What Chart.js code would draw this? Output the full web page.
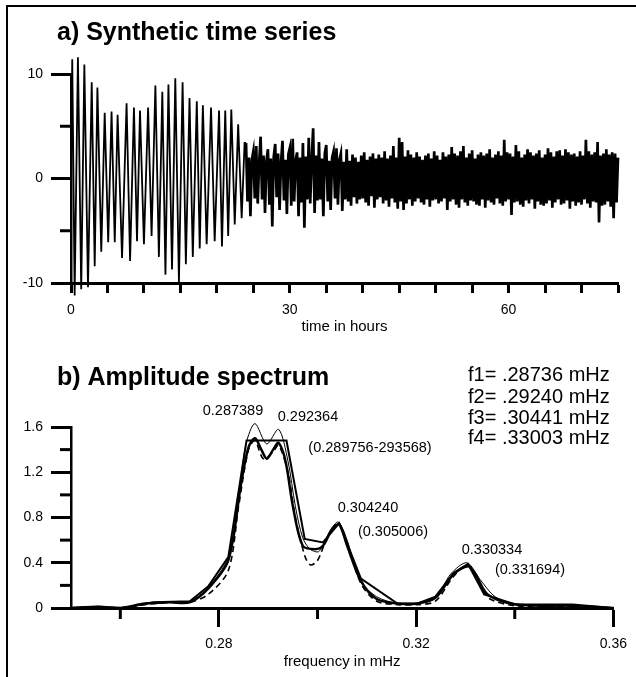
<!DOCTYPE html>
<html><head><meta charset="utf-8">
<script src="https://cdn.jsdelivr.net/npm/chart.js@4/dist/chart.umd.min.js"></script>
<style>
html,body{margin:0;padding:0;background:#fff;}
body{width:636px;height:677px;position:relative;overflow:hidden;}
#frame{position:absolute;left:6px;top:5px;width:700px;height:700px;border-left:2px solid #000;border-top:2px solid #000;}
.box{position:absolute;left:0;width:636px;}
#boxA{top:0;height:345px;}
#boxB{top:340px;height:337px;}
</style></head><body>
<div id="frame"></div>
<div class="box" id="boxA"><canvas id="cA"></canvas></div>
<div class="box" id="boxB"><canvas id="cB"></canvas></div>
<script>
// ---------- panel a: synthetic time series ----------
const hoursEarly = [0.0,0.17,0.5,0.95,1.4,1.83,2.33,2.84,3.25,3.62,4.15,4.62,5.1,5.56,6.0,6.39,7.0,7.62,8.1,8.63,9.05,9.46,10.0,10.57,11.05,11.57,12.05,12.52,12.95,13.36,13.85,14.3,14.8,15.3,15.75,16.25,16.7,17.25,17.65,18.08,18.6,19.2,19.7,20.3,20.7,21.15,21.55,21.98,22.45,22.92,23.4,23.8];
const valuesEarly = [0,11.4,-11.2,11.6,-10.6,10.9,-10.4,9.2,-8.4,8.7,-7.0,6.3,-6.1,6.4,-6.1,6.1,-7.6,7.2,-7.9,6.8,-6.0,6.5,-6.3,6.8,-5.5,8.9,-7.5,8.3,-9.2,9.0,-8.7,9.6,-10.0,9.2,-8.2,7.7,-7.5,7.4,-6.7,7.0,-6.3,6.8,-6.0,6.5,-6.5,6.5,-5.5,6.6,-4.4,5.2,-3.8,3.4];
const denseStartHour = 24.0;
const denseStepHour = 0.2;
const valuesDense = [
 3.4,-2.2,2.0,-3.6,1.8, 2.6,-1.9,3.1,-2.4,1.5, 4.0,-2.0,2.2,-3.3,1.7, 2.8,-2.5,1.9,-4.6,2.1,
 3.3,-1.8,2.4,-3.0,1.6, 3.6,-2.1,1.8,-3.4,2.3, 2.9,-2.6,3.8,-2.2,1.7, 2.5,-3.6,2.0,-2.3,3.4,
 -4.7,2.1,-2.0,3.9,-2.4, 1.8,4.8,-3.3,2.2,-2.1, 3.5,-2.0,1.9,-3.6,2.4, 3.2,-2.2,1.7,-3.0,2.0,
 2.6,-1.9,2.9,-2.5,1.8, 2.4,-3.1,1.6,-2.0,2.8, -2.2,1.7,-2.6,2.3,-1.8, 2.0,-2.4,1.6,-2.0,2.2,
 -1.9,2.5,-2.3,1.8,-2.6, 2.1,-1.7,2.4,-2.8,1.9, -2.0,2.3,-1.8,2.0,-2.4, 2.6,-2.1,1.9,-2.7,2.2,
 -1.9,3.1,-2.3,2.0,-2.9, 3.9,-2.2,3.5,-3.0,2.1, -2.4,2.7,-2.0,2.3,-2.6, 2.0,-2.2,2.5,-1.9,2.1,
 -2.3,1.8,-2.5,2.2,-2.0, 2.4,-2.7,1.9,-2.1,2.6, -2.0,2.2,-2.4,1.8,-2.2, 2.5,-1.9,2.1,-3.0,2.3,
 -2.2,3.0,-2.0,2.4,-2.5, 2.2,-2.8,2.6,-2.0,3.1, -2.3,2.0,-2.6,2.4,-2.1, 2.7,-2.2,1.9,-2.5,2.3,
 -2.6,2.5,-2.0,2.2,-2.8, 2.4,-2.1,2.8,-2.3,2.0, -2.5,2.3,-1.9,2.6,-2.4, 2.2,-2.6,3.7,-2.2,2.5,
 -2.0,2.4,-3.5,2.1,-2.3, 3.2,-2.2,2.6,-2.5,2.0, -2.7,2.3,-2.1,2.8,-2.4, 2.5,-2.0,2.2,-2.9,2.4,
 -2.2,2.7,-2.5,2.0,-2.6, 2.3,-2.4,2.9,-2.1,2.5, -2.8,2.1,-2.3,2.6,-2.0, 2.7,-2.5,2.2,-2.4,2.8,
 -2.1,2.5,-2.9,2.3,-2.2, 2.4,-2.6,2.1,-2.3,2.6, -2.5,2.2,-2.0,3.7,-2.4, 2.6,-2.8,2.3,-2.2,2.5,
 -2.3,3.5,-4.2,2.2,-2.6, 2.4,-2.5,2.8,-2.2,2.3, -2.7,2.5,-3.8,2.4,-2.3, 2.0
];
const timeTicksLabelled = [0, 30, 60];

// ---------- panel b: amplitude spectrum ----------
const freqFlat = [0.2500,0.2556,0.2603,0.2630,0.2667,0.2741,0.2778,0.2819,0.2856,0.2937,0.2974,0.3011,0.3044,0.3088,0.3162,0.3203,0.3239,0.3276,0.3305,0.3338,0.3403,0.3517,0.3600];
const ampFlat  = [0.00,0.01,0.00,0.02,0.05,0.06,0.19,0.45,1.48,1.48,0.61,0.58,0.75,0.26,0.04,0.04,0.10,0.31,0.39,0.12,0.03,0.03,0.00];
const freqLow = [0.2500,0.2556,0.2600,0.2650,0.2700,0.2741,0.2778,0.2819,0.2845,0.2860,0.2873,0.2886,0.2897,0.2910,0.2921,0.2935,0.2950,0.2970,0.2995,0.3011,0.3030,0.3044,0.3060,0.3088,0.3120,0.3162,0.3203,0.3239,0.3276,0.3305,0.3320,0.3345,0.3403,0.3517,0.3600];
const ampLow  = [0.00,0.01,0.00,0.04,0.05,0.05,0.17,0.42,1.10,1.42,1.50,1.40,1.32,1.40,1.46,1.30,0.90,0.55,0.52,0.55,0.70,0.74,0.55,0.24,0.08,0.04,0.04,0.09,0.30,0.37,0.30,0.12,0.03,0.02,0.00];
const freqThin = [0.2500,0.2556,0.2600,0.2650,0.2700,0.2741,0.2778,0.2819,0.2840,0.2855,0.2873,0.2897,0.2921,0.2940,0.2955,0.2970,0.2985,0.3003,0.3025,0.3042,0.3060,0.3085,0.3120,0.3162,0.3203,0.3240,0.3270,0.3303,0.3330,0.3360,0.3403,0.3500,0.3600];
const ampThin  = [0.00,0.01,0.00,0.04,0.05,0.06,0.18,0.45,1.00,1.45,1.63,1.45,1.58,1.30,0.90,0.62,0.52,0.50,0.68,0.76,0.60,0.25,0.10,0.04,0.04,0.09,0.30,0.40,0.25,0.10,0.03,0.02,0.00];
const freqDash = [0.2500,0.2556,0.2600,0.2650,0.2700,0.2741,0.2778,0.2819,0.2840,0.2860,0.2873,0.2890,0.2910,0.2921,0.2940,0.2955,0.2975,0.2986,0.3000,0.3020,0.3044,0.3065,0.3090,0.3120,0.3162,0.3203,0.3239,0.3276,0.3305,0.3330,0.3350,0.3400,0.3500,0.3600];
const ampDash  = [0.00,0.01,0.00,0.03,0.05,0.05,0.12,0.33,0.90,1.40,1.48,1.32,1.38,1.44,1.20,0.80,0.45,0.38,0.42,0.62,0.74,0.50,0.20,0.06,0.03,0.03,0.06,0.28,0.38,0.20,0.08,0.02,0.01,0.00];

const peakLabels = ['0.287389','0.292364','(0.289756-293568)','0.304240','(0.305006)','0.330334','(0.331694)'];
const freqLines = ['f1= .28736 mHz','f2= .29240 mHz','f3= .30441 mHz','f4= .33003 mHz'];

// ---------- helpers ----------
const FONT = '"Liberation Sans", Arial, sans-serif';
function pts(xs, ys){ return xs.map((x,i)=>({x:x, y:ys[i]})); }
const seriesA = pts(hoursEarly, valuesEarly).concat(valuesDense.map((v,i)=>({x: denseStartHour + i*denseStepHour, y: v})));

function minorTicks(axisId, values, len, horizontal){
  return function(chart){
    const s = chart.scales[axisId], ctx = chart.ctx;
    ctx.save(); ctx.strokeStyle='#000'; ctx.lineWidth=3; ctx.lineCap='butt';
    values.forEach(v=>{
      const p = s.getPixelForValue(v);
      ctx.beginPath();
      if (horizontal){ ctx.moveTo(p, s.top); ctx.lineTo(p, s.top+len); }
      else { ctx.moveTo(s.right-len, p); ctx.lineTo(s.right, p); }
      ctx.stroke();
    });
    ctx.restore();
  };
}
function txt(ctx, s, x, y, font, align){
  ctx.font = font; ctx.textAlign = align || 'left'; ctx.textBaseline='middle'; ctx.fillStyle='#000';
  ctx.fillText(s, x, y);
}

const tickFont = {family: FONT, size: 14};

// ---------- chart a ----------
new Chart(document.getElementById('cA'), {
  type: 'line',
  data: { datasets: [{ data: seriesA, borderColor:'#000', borderWidth:1.8, pointRadius:0, tension:0, clip:false,
    segment:{ borderWidth:(c)=> c.p0.parsed.x >= denseStartHour ? 2.7 : 1.8 } }]},
  options: {
    responsive:true, maintainAspectRatio:false, animation:false,
    layout:{ padding:{ left:0, right:18, top:74, bottom:0 } },
    plugins:{ legend:{display:false}, tooltip:{enabled:false} },
    scales:{
      x:{ type:'linear', min:0, max:75,
        ticks:{ stepSize:5, color:'#000', font:tickFont, padding:9, maxRotation:0, autoSkip:false,
          callback:(v)=> timeTicksLabelled.includes(v) ? String(v) : '' },
        grid:{ drawOnChartArea:false, drawTicks:true, tickLength:10, tickWidth:3, tickColor:'#000' },
        border:{ display:true, width:3, color:'#000' },
        afterFit:(s)=>{ s.height = 62; } },
      y:{ type:'linear', min:-10, max:10,
        ticks:{ stepSize:10, color:'#000', font:tickFont, padding:8 },
        grid:{ drawOnChartArea:false, drawTicks:true, tickLength:20, tickWidth:3, tickColor:'#000' },
        border:{ display:true, width:2.5, color:'#000' },
        afterFit:(s)=>{ s.width = 71; } }
    }
  },
  plugins:[{ id:'decoA', afterDraw:(chart)=>{
    minorTicks('y', [-5,5], 11, false)(chart);
    const ctx = chart.ctx, ca = chart.chartArea;
    ctx.save();
    txt(ctx, 'a) Synthetic time series', 57, 33, 'bold 25px '+FONT);
    txt(ctx, 'time in hours', (ca.left+ca.right)/2, 327, '15px '+FONT, 'center');
    ctx.restore();
  }}]
});

// ---------- chart b ----------
const OFF = 340;
new Chart(document.getElementById('cB'), {
  type: 'line',
  data: { datasets: [
    { data: pts(freqThin, ampThin), borderColor:'#000', borderWidth:1, pointRadius:0, tension:0.3, clip:false },
    { data: pts(freqDash, ampDash), borderColor:'#000', borderWidth:1.6, borderDash:[6,4], pointRadius:0, tension:0.3, clip:false },
    { data: pts(freqLow, ampLow), borderColor:'#000', borderWidth:2.5, pointRadius:0, tension:0.3, clip:false },
    { data: pts(freqFlat, ampFlat), borderColor:'#000', borderWidth:2, pointRadius:0, tension:0, clip:false }
  ]},
  options: {
    responsive:true, maintainAspectRatio:false, animation:false,
    layout:{ padding:{ left:0, right:19, top:87, bottom:0 } },
    plugins:{ legend:{display:false}, tooltip:{enabled:false} },
    scales:{
      x:{ type:'linear', min:0.25, max:0.36,
        ticks:{ stepSize:0.04, includeBounds:false, color:'#000', font:tickFont, padding:9, maxRotation:0, autoSkip:false },
        grid:{ drawOnChartArea:false, drawTicks:true, tickLength:19, tickWidth:3, tickColor:'#000' },
        border:{ display:true, width:3, color:'#000' },
        afterFit:(s)=>{ s.height = 69; } },
      y:{ type:'linear', min:0, max:1.6,
        ticks:{ stepSize:0.4, color:'#000', font:tickFont, padding:8 },
        grid:{ drawOnChartArea:false, drawTicks:true, tickLength:20, tickWidth:3, tickColor:'#000' },
        border:{ display:true, width:2.5, color:'#000' },
        afterFit:(s)=>{ s.width = 71; } }
    }
  },
  plugins:[{ id:'decoB', afterDraw:(chart)=>{
    minorTicks('y', [0.2,0.6,1.0,1.4], 11, false)(chart);
    minorTicks('x', [0.26,0.30,0.34], 11, true)(chart);
    const ctx = chart.ctx, ca = chart.chartArea;
    ctx.save();
    txt(ctx, 'b) Amplitude spectrum', 57, 378-OFF, 'bold 25px '+FONT);
    txt(ctx, 'frequency in mHz', (ca.left+ca.right)/2, 662-OFF, '15px '+FONT, 'center');
    const f = '14.5px '+FONT;
    const pos = [[233,411],[308,417],[370,448],[368,508],[393,532],[492,550],[530,570]];
    peakLabels.forEach((s,i)=> txt(ctx, s, pos[i][0], pos[i][1]-OFF, f, 'center'));
    const fy = [375,397,418,438];
    freqLines.forEach((s,i)=> txt(ctx, s, 468, fy[i]-OFF, '20px '+FONT));
    ctx.restore();
  }}]
});
</script>
</body></html>
